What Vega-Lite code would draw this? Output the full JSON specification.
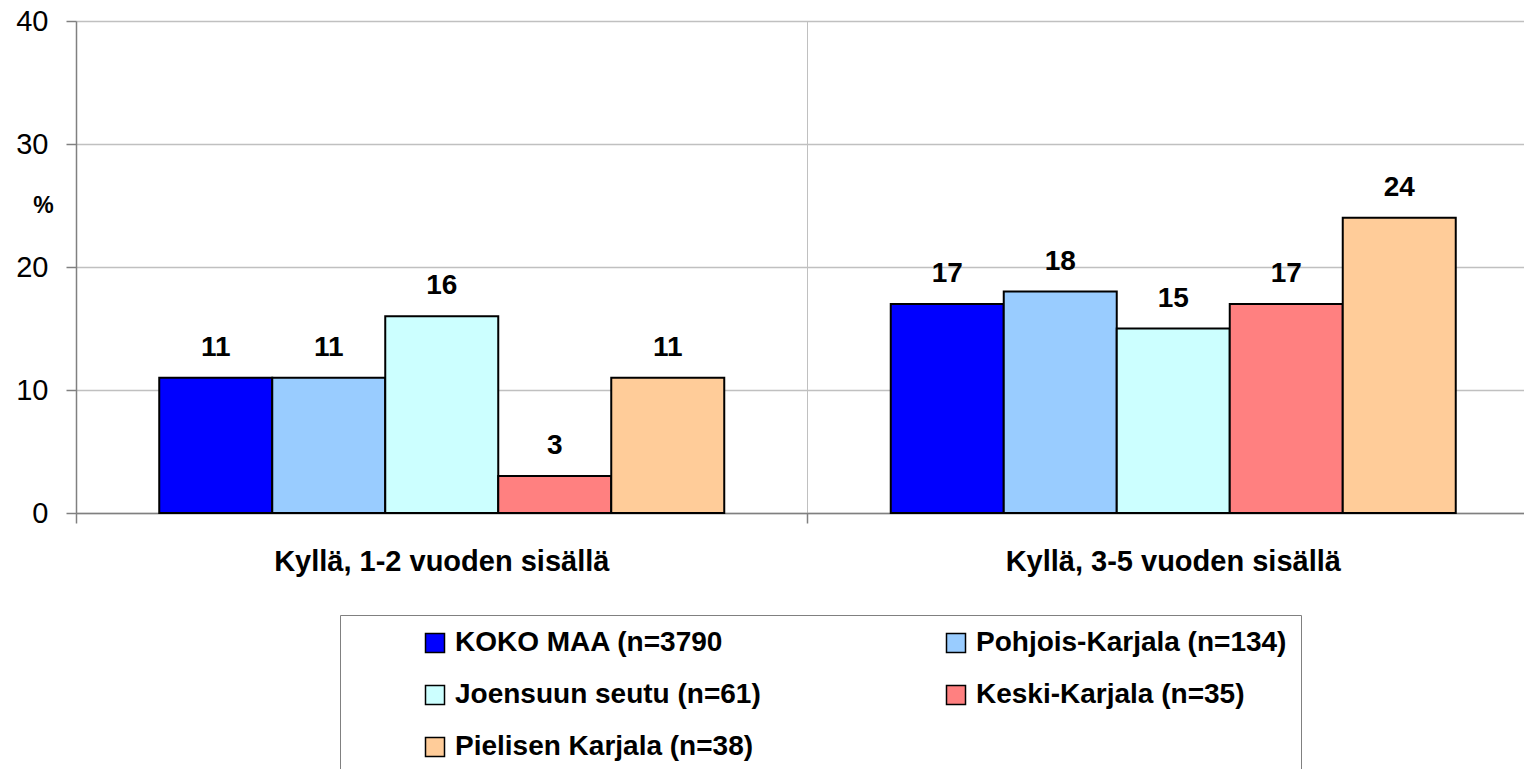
{
  "$schema": "https://vega.github.io/schema/vega-lite/v6.json",
  "width": 1448,
  "height": 492,
  "autosize": {"type": "none"},
  "padding": {"left": 76, "top": 21, "right": 0, "bottom": 256},
  "background": "white",
  "config": {
    "view": {"stroke": null},
    "font": "Liberation Sans"
  },
  "data": {
    "values": [
      {"cat": "Kyllä, 1-2 vuoden sisällä", "series": "KOKO MAA (n=3790", "value": 11},
      {"cat": "Kyllä, 1-2 vuoden sisällä", "series": "Pohjois-Karjala (n=134)", "value": 11},
      {"cat": "Kyllä, 1-2 vuoden sisällä", "series": "Joensuun seutu (n=61)", "value": 16},
      {"cat": "Kyllä, 1-2 vuoden sisällä", "series": "Keski-Karjala (n=35)", "value": 3},
      {"cat": "Kyllä, 1-2 vuoden sisällä", "series": "Pielisen Karjala (n=38)", "value": 11},
      {"cat": "Kyllä, 3-5 vuoden sisällä", "series": "KOKO MAA (n=3790", "value": 17},
      {"cat": "Kyllä, 3-5 vuoden sisällä", "series": "Pohjois-Karjala (n=134)", "value": 18},
      {"cat": "Kyllä, 3-5 vuoden sisällä", "series": "Joensuun seutu (n=61)", "value": 15},
      {"cat": "Kyllä, 3-5 vuoden sisällä", "series": "Keski-Karjala (n=35)", "value": 17},
      {"cat": "Kyllä, 3-5 vuoden sisällä", "series": "Pielisen Karjala (n=38)", "value": 24}
    ]
  },
  "encoding": {
    "x": {
      "field": "cat",
      "type": "nominal",
      "sort": null,
      "scale": {"range": [0, 1463], "paddingInner": 0, "paddingOuter": 0},
      "axis": {
        "title": null,
        "labelAngle": 0,
        "bandPosition": 0,
        "grid": true,
        "gridColor": "#c0c0c0",
        "gridWidth": 1,
        "domainColor": "#808080",
        "domainWidth": 1.5,
        "tickColor": "#808080",
        "tickWidth": 1.5,
        "tickSize": 10,
        "labelFont": "Liberation Sans",
        "labelFontSize": 29,
        "labelFontWeight": "bold",
        "labelColor": "black",
        "labelPadding": 24,
        "labelLimit": 700
      }
    },
    "xOffset": {
      "field": "series",
      "type": "nominal",
      "sort": null,
      "scale": {"paddingInner": 0, "paddingOuter": 0.7367}
    },
    "y": {
      "field": "value",
      "type": "quantitative",
      "scale": {"domain": [0, 40], "nice": false},
      "axis": {
        "values": [0, 10, 20, 30, 40],
        "title": "%",
        "titleAngle": 0,
        "titleX": -33,
        "titleY": 184,
        "titleAlign": "center",
        "titleBaseline": "middle",
        "titleFont": "Liberation Sans",
        "titleFontSize": 23,
        "titleFontWeight": "bold",
        "titleColor": "black",
        "grid": true,
        "gridColor": "#c0c0c0",
        "gridWidth": 1.5,
        "domainColor": "#808080",
        "domainWidth": 1.5,
        "tickColor": "#808080",
        "tickWidth": 1.5,
        "tickSize": 10,
        "labelFont": "Liberation Sans",
        "labelFontSize": 29,
        "labelColor": "black",
        "labelPadding": 18
      }
    }
  },
  "layer": [
    {
      "mark": {"type": "bar", "stroke": "black", "strokeWidth": 2},
      "encoding": {
        "fill": {
          "field": "series",
          "type": "nominal",
          "sort": null,
          "scale": {
            "domain": ["KOKO MAA (n=3790", "Pohjois-Karjala (n=134)", "Joensuun seutu (n=61)", "Keski-Karjala (n=35)", "Pielisen Karjala (n=38)"],
            "range": ["#0000FF", "#99CCFF", "#CCFFFF", "#FF8080", "#FFCC99"]
          },
          "legend": {
            "title": null,
            "orient": "none",
            "legendX": 264,
            "legendY": 594,
            "direction": "horizontal",
            "columns": 2,
            "columnPadding": 114,
            "rowPadding": 24,
            "padding": 14,
            "strokeColor": "#808080",
            "fillColor": "white",
            "symbolType": "square",
            "symbolSize": 361,
            "symbolStrokeColor": "black",
            "symbolStrokeWidth": 1.5,
            "symbolOffset": 67,
            "labelOffset": 6,
            "labelFont": "Liberation Sans",
            "labelFontSize": 28,
            "labelFontWeight": "bold",
            "labelColor": "black",
            "labelLimit": 600
          }
        }
      }
    },
    {
      "mark": {"type": "text", "baseline": "alphabetic", "dy": -22, "fontSize": 28, "fontWeight": "bold", "font": "Liberation Sans", "color": "black"},
      "encoding": {
        "text": {"field": "value", "type": "quantitative"}
      }
    }
  ]
}
